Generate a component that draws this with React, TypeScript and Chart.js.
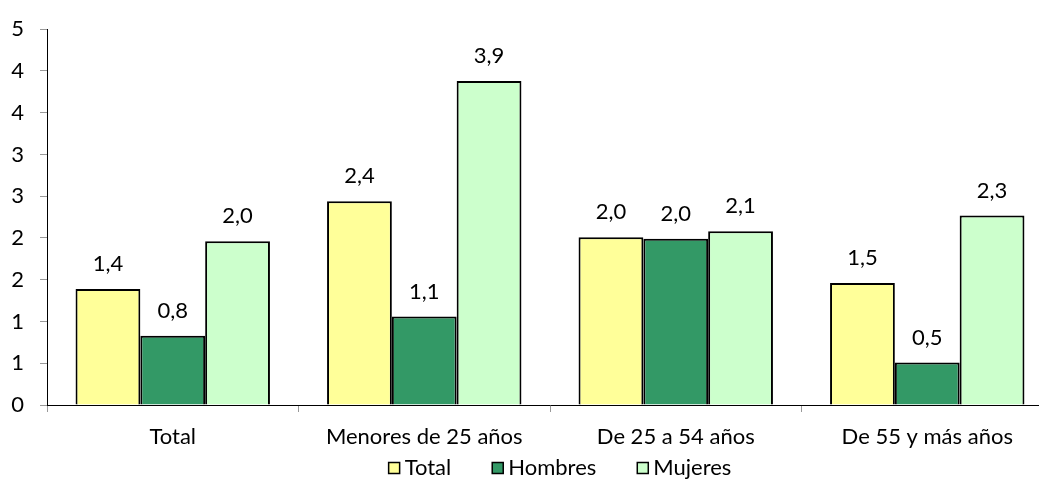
import React, { useEffect, useRef } from "react";
import { Chart, registerables } from "chart.js";

Chart.register(...registerables);

const categories = ["Total", "Menores de 25 años", "De 25 a 54 años", "De 55 y más años"];
const seriesNames = ["Total", "Hombres", "Mujeres"];
const totalValues = [1.39, 2.44, 2.01, 1.46];
const hombresValues = [0.83, 1.06, 1.99, 0.51];
const mujeresValues = [1.96, 3.88, 2.08, 2.27];
const seriesColors = ["#FFFF99", "#339966", "#CCFFCC"];
const yTicksMin = 0;
const yTicksMax = 4.5;
const yTickStep = 0.5;

const FONT = "Lato, 'Open Sans', sans-serif";
const FONT_SIZE = 22;

const dataLabelsPlugin = {
  id: "dataLabels",
  afterDatasetsDraw(chart: any) {
    const ctx = chart.ctx;
    ctx.save();
    ctx.font = `${FONT_SIZE}px ${FONT}`;
    ctx.fillStyle = "#000";
    ctx.textAlign = "center";
    ctx.textBaseline = "middle";
    chart.data.datasets.forEach((ds: any, i: number) => {
      const meta = chart.getDatasetMeta(i);
      meta.data.forEach((bar: any, j: number) => {
        const v = ds.data[j] as number;
        const txt = v.toFixed(1).replace(".", ",");
        ctx.fillText(txt, bar.x, bar.y - 25);
      });
    });
    ctx.restore();
  },
};

const legendPlugin = {
  id: "customLegend",
  afterDraw(chart: any) {
    const ctx = chart.ctx;
    ctx.save();
    ctx.font = `${FONT_SIZE}px ${FONT}`;
    const box = 11;
    const boxGap = 5;
    const itemGap = 41;
    const items = chart.data.datasets.map((ds: any) => ({
      label: ds.label,
      color: ds.backgroundColor,
      w: ctx.measureText(ds.label).width,
    }));
    const total =
      items.reduce((s: number, it: any) => s + box + boxGap + it.w, 0) + itemGap * (items.length - 1);
    const centerX = (chart.chartArea.left + chart.chartArea.right) / 2 + 10;
    const cy = 468;
    let x = centerX - total / 2;
    items.forEach((it: any) => {
      ctx.fillStyle = it.color;
      ctx.fillRect(x, cy - box / 2, box, box);
      ctx.strokeStyle = "#000";
      ctx.lineWidth = 1.5;
      ctx.strokeRect(x, cy - box / 2, box, box);
      ctx.fillStyle = "#000";
      ctx.textAlign = "left";
      ctx.textBaseline = "middle";
      ctx.fillText(it.label, x + box + boxGap, cy);
      x += box + boxGap + it.w + itemGap;
    });
    ctx.restore();
  },
};

export default function App() {
  const ref = useRef<HTMLCanvasElement | null>(null);

  useEffect(() => {
    if (!ref.current) return;
    const allValues = [totalValues, hombresValues, mujeresValues];
    const chart = new Chart(ref.current, {
      type: "bar",
      data: {
        labels: categories,
        datasets: seriesNames.map((name, i) => ({
          label: name,
          data: allValues[i],
          backgroundColor: seriesColors[i],
          borderColor: "#000",
          borderWidth: 2,
          barPercentage: 1,
          categoryPercentage: 0.773,
        })),
      },
      options: {
        responsive: false,
        animation: false,
        layout: { padding: { top: 27, right: 7, left: 0, bottom: 0 } },
        plugins: {
          legend: { display: false },
          tooltip: { enabled: false },
        },
        scales: {
          x: {
            afterFit: (s: any) => {
              s.height = 74;
            },
            grid: {
              display: true,
              drawOnChartArea: false,
              drawTicks: true,
              tickLength: 7,
              tickColor: "#999",
              offset: true,
            },
            border: { display: true, color: "#000", width: 1 },
            ticks: {
              color: "#000",
              font: { family: FONT, size: FONT_SIZE },
              padding: 12,
              maxRotation: 0,
            },
          },
          y: {
            min: yTicksMin,
            max: yTicksMax,
            afterFit: (s: any) => {
              s.width = 47;
            },
            grid: {
              display: true,
              drawOnChartArea: false,
              drawTicks: true,
              tickLength: 7,
              tickColor: "#999",
            },
            border: { display: true, color: "#000", width: 1 },
            ticks: {
              stepSize: yTickStep,
              color: "#000",
              font: { family: FONT, size: FONT_SIZE },
              padding: 16,
              callback: (v: any) => String(Math.round(Number(v))),
            },
          },
        },
      },
      plugins: [dataLabelsPlugin, legendPlugin],
    });
    return () => chart.destroy();
  }, []);

  return (
    <div
      style={{
        position: "fixed",
        left: 0,
        top: 0,
        width: 1039,
        height: 479,
        overflow: "hidden",
        background: "#fff",
      }}
    >
      <canvas ref={ref} width={1060} height={479} style={{ display: "block" }} />
    </div>
  );
}
